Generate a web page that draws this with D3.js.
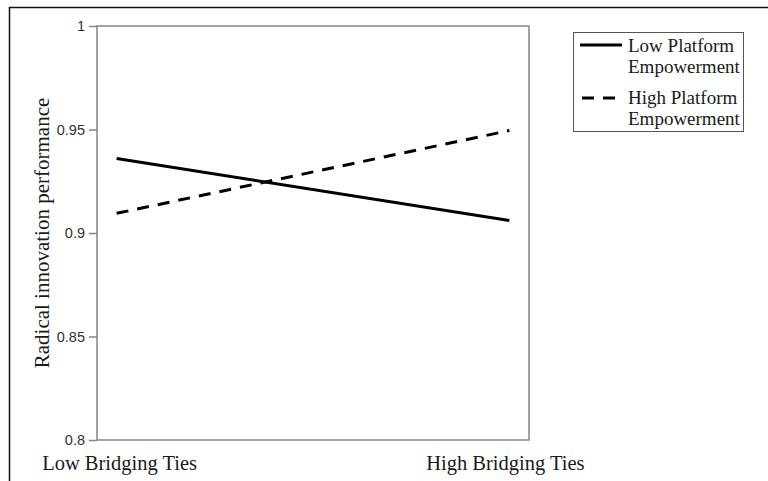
<!DOCTYPE html>
<html><head><meta charset="utf-8">
<script src="https://cdn.jsdelivr.net/npm/d3@7"></script>
<style>body{margin:0;background:#fff}</style>
</head><body>
<script>
const categories = ["Low Bridging Ties", "High Bridging Ties"];
const lowEmpowerment = [0.936, 0.906];
const highEmpowerment = [0.9095, 0.9495];
const seriesNames = ["Low Platform Empowerment", "High Platform Empowerment"];
const yTicks = [0.8, 0.85, 0.9, 0.95, 1];

(function () {
const W = 768, H = 481;
const svg = d3.select("body").append("svg").attr("width", W).attr("height", H);
svg.append("rect").attr("width", W).attr("height", H).attr("fill", "#fff");

svg.append("path").attr("d", `M9.5,${H} L9.5,7.5 L${W},7.5`).attr("fill", "none").attr("stroke", "#111").attr("stroke-width", 1.5);

const pLeft = 97, pRight = 529, pTop = 26, pBottom = 440;
const x = d3.scalePoint().domain(categories).range([pLeft, pRight]).padding(0.05);
const y = d3.scaleLinear().domain([0.8, 1]).range([pBottom, pTop]);

const axisColor = "#858585";
svg.append("rect").attr("x", pLeft).attr("y", pTop).attr("width", pRight - pLeft).attr("height", pBottom - pTop)
  .attr("fill", "none").attr("stroke", axisColor).attr("stroke-width", 1.5);

const yAxis = svg.append("g").attr("transform", `translate(${pLeft},0)`)
  .call(d3.axisLeft(y).tickValues(yTicks).tickSize(8).tickPadding(4).tickFormat(d => d3.format("")(d)));
yAxis.select(".domain").remove();
yAxis.selectAll("line").attr("stroke", axisColor).attr("stroke-width", 1.5);
yAxis.selectAll("text").attr("fill", "#333").style("font-family", "'Liberation Sans', Arial, sans-serif").style("font-size", "14.5px");

svg.selectAll(".xl").data(categories).enter().append("text")
  .attr("x", (d, i) => x(d) + (i === 0 ? 3 : -4)).attr("y", 470)
  .attr("text-anchor", "middle")
  .style("font-family", "'Liberation Serif', 'Times New Roman', serif").style("font-size", "20.5px").attr("fill", "#1a1a1a")
  .text(d => d);

svg.append("text").attr("transform", `translate(49,${(pTop + pBottom) / 2}) rotate(-90)`)
  .attr("text-anchor", "middle")
  .style("font-family", "'Liberation Serif', 'Times New Roman', serif").style("font-size", "21px").attr("fill", "#1a1a1a")
  .text("Radical innovation performance");

const line = d3.line().x((d, i) => x(categories[i])).y(d => y(d));
svg.append("path").datum(lowEmpowerment).attr("d", line).attr("fill", "none").attr("stroke", "#000").attr("stroke-width", 3);
svg.append("path").datum(highEmpowerment).attr("d", line).attr("fill", "none").attr("stroke", "#000").attr("stroke-width", 3)
  .attr("stroke-dasharray", "12,9");

const lg = svg.append("g");
lg.append("rect").attr("x", 573.5).attr("y", 32.5).attr("width", 170).attr("height", 99)
  .attr("fill", "#fff").attr("stroke", "#555").attr("stroke-width", 1);
const legendItems = [
  { lines: ["Low Platform", "Empowerment"], dash: null, ly: 45, ty: 52 },
  { lines: ["High Platform", "Empowerment"], dash: "12,9", ly: 98, ty: 104 }
];
legendItems.forEach((it) => {
  const l = lg.append("line").attr("x1", 580).attr("x2", 622).attr("y1", it.ly).attr("y2", it.ly)
    .attr("stroke", "#000").attr("stroke-width", 3);
  if (it.dash) l.attr("stroke-dasharray", it.dash).attr("x1", 582).attr("x2", 622);
  const t = lg.append("text").attr("x", 628).attr("y", it.ty)
    .style("font-family", "'Liberation Serif', 'Times New Roman', serif").style("font-size", "19px").attr("fill", "#1a1a1a");
  it.lines.forEach((s, j) => t.append("tspan").attr("x", 628).attr("dy", j === 0 ? 0 : 21).text(s));
});
})();
</script>
</body></html>
